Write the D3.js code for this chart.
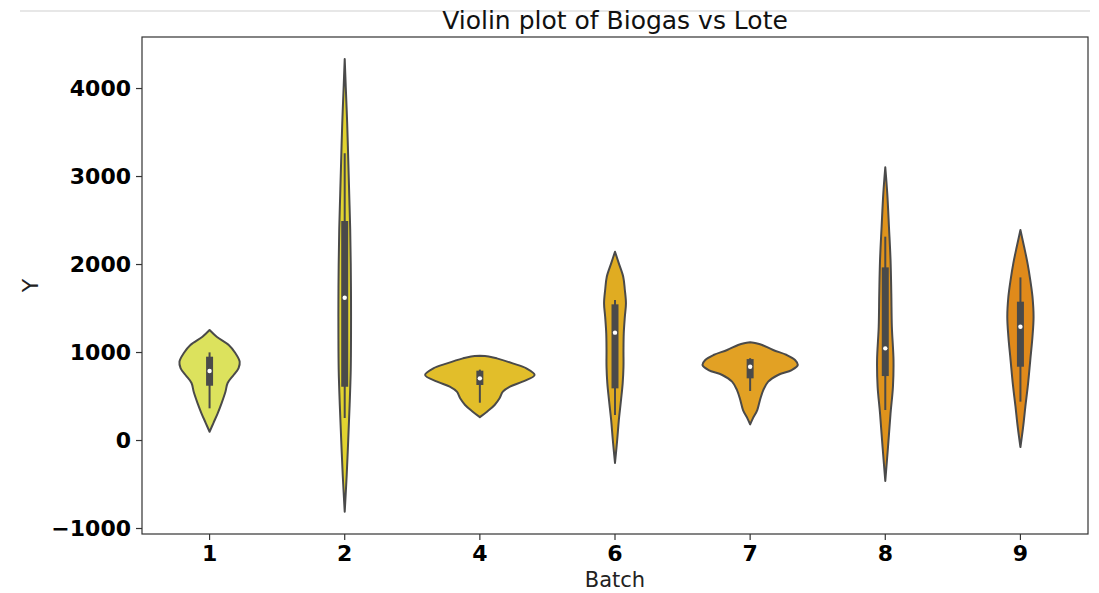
<!DOCTYPE html>
<html>
<head>
<meta charset="utf-8">
<script src="https://cdn.jsdelivr.net/npm/d3@7"></script>
<style>
  body { margin: 0; background: #fff; }
  svg { display: block; font-family: "DejaVu Sans", sans-serif; }
</style>
</head>
<body>
<svg id="chart" width="1099" height="593"></svg>
<script>
// categories and colours
const batches = ["1", "2", "4", "6", "7", "8", "9"];
const colors = ["#dce25d", "#e2d430", "#e2be2a", "#e0ac22", "#e2a124", "#df931c", "#e08a1b"];

// density profiles: [value, relative density]
const profile1 = [[1250,0],[1174,.13],[1080,.35],[989,.47],[890,.55],[818,.53],[739,.44],[648,.33],[549,.29],[420,.22],[307,.15],[193,.07],[94,0]];
const profile2 = [[4330,0],[4000,.02],[3600,.045],[3200,.064],[2800,.082],[2400,.1],[2000,.11],[1600,.115],[1200,.115],[800,.11],[400,.09],[0,.064],[-400,.036],[-815,0]];
const profile4 = [[958,0],[950,.16],[928,.31],[871,.6],[814,.85],[739,1],[663,.78],[606,.55],[549,.42],[474,.36],[398,.27],[322,.13],[260,0]];
const profile6 = [[2140,0],[2008,.07],[1856,.15],[1705,.18],[1553,.2],[1402,.18],[1212,.16],[1023,.155],[833,.155],[644,.14],[455,.11],[227,.07],[0,.04],[-260,0]];
const profile7 = [[1110,0],[1100,.11],[1080,.22],[1023,.42],[966,.67],[909,.82],[852,.87],[795,.76],[739,.51],[663,.33],[568,.24],[455,.18],[341,.13],[246,.05],[178,0]];
const profile8 = [[3100,0],[2803,.036],[2424,.067],[2045,.096],[1667,.11],[1288,.12],[909,.15],[606,.14],[303,.096],[-76,.05],[-466,0]];
const profile9 = [[2386,0],[2197,.067],[2008,.13],[1818,.18],[1629,.22],[1402,.24],[1174,.22],[909,.18],[644,.14],[379,.09],[152,.05],[-80,0]];
const profiles = [profile1, profile2, profile4, profile6, profile7, profile8, profile9];

// box stats: whisker low, q1, median, q3, whisker high
const whiskerLow  = [360, 250, 424, 284, 557, 341, 436];
const q1          = [617, 606, 625, 587, 701, 727, 833];
const medians     = [784, 1617, 701, 1220, 833, 1042, 1288];
const q3          = [947, 2489, 788, 1542, 920, 1962, 1572];
const whiskerHigh = [996, 3258, 800, 1591, 930, 2311, 1848];

const yTicks = [-1000, 0, 1000, 2000, 3000, 4000];

const svg = d3.select("#chart");
const margin = {top: 37, right: 11, bottom: 59, left: 142};
const width = 1099 - margin.left - margin.right,
      height = 593 - margin.top - margin.bottom;

// notebook separator line
svg.append("line")
  .attr("x1", 20).attr("x2", 1090).attr("y1", 11).attr("y2", 11)
  .attr("stroke", "#cfcfcf").attr("stroke-width", 1);

const g = svg.append("g").attr("transform", "translate(" + margin.left + "," + margin.top + ")");

const x = d3.scaleBand().domain(batches).range([0, width]);
const y = d3.scaleLinear().domain([-1068, 4580]).range([height, 0]);
const w = d3.scaleLinear().domain([0, 1]).range([0, x.bandwidth() * 0.405]);

const ink = "#4a4a4a";

batches.forEach(function(b, i) {
  const cx = x(b) + x.bandwidth() / 2;
  const area = d3.area()
    .curve(d3.curveCatmullRom.alpha(0.5))
    .y(function(d) { return y(d[0]); })
    .x0(function(d) { return cx - w(d[1]); })
    .x1(function(d) { return cx + w(d[1]); });

  g.append("path")
    .datum(profiles[i])
    .attr("d", area)
    .attr("fill", colors[i])
    .attr("stroke", ink)
    .attr("stroke-width", 2)
    .attr("stroke-linejoin", "round");

  g.append("line")
    .attr("x1", cx).attr("x2", cx)
    .attr("y1", y(whiskerLow[i])).attr("y2", y(whiskerHigh[i]))
    .attr("stroke", ink).attr("stroke-width", 2);

  g.append("line")
    .attr("x1", cx).attr("x2", cx)
    .attr("y1", y(q1[i])).attr("y2", y(q3[i]))
    .attr("stroke", ink).attr("stroke-width", 7);

  g.append("circle")
    .attr("cx", cx).attr("cy", y(medians[i]))
    .attr("r", 2.2)
    .attr("fill", "#fff");
});

// frame
g.append("rect")
  .attr("width", width).attr("height", height)
  .attr("fill", "none").attr("stroke", "#333").attr("stroke-width", 1.2);

const yAxis = g.append("g")
  .call(d3.axisLeft(y).tickValues(yTicks).tickFormat(d3.format("d")).tickSize(6).tickPadding(5));
const xAxis = g.append("g")
  .attr("transform", "translate(0," + height + ")")
  .call(d3.axisBottom(x).tickSize(6).tickPadding(5));

[yAxis, xAxis].forEach(function(a) {
  a.select(".domain").remove();
  a.selectAll(".tick line").attr("stroke", "#333").attr("stroke-width", 1.2);
  a.selectAll(".tick text")
    .attr("fill", "#000")
    .attr("font-family", "DejaVu Sans")
    .attr("font-weight", "bold")
    .attr("font-size", 22)
    .text(function(d) { return String(d).replace("-", "\u2212"); });
});

svg.append("text")
  .attr("x", margin.left + width / 2).attr("y", 29)
  .attr("text-anchor", "middle")
  .attr("font-size", 25)
  .attr("fill", "#111")
  .text("Violin plot of Biogas vs Lote");

svg.append("text")
  .attr("x", margin.left + width / 2).attr("y", 587)
  .attr("text-anchor", "middle")
  .attr("font-size", 21)
  .attr("fill", "#222")
  .text("Batch");

svg.append("text")
  .attr("transform", "translate(38," + (margin.top + height / 2) + ") rotate(-90)")
  .attr("text-anchor", "middle")
  .attr("font-size", 22)
  .attr("fill", "#222")
  .text("Y");
</script>
</body>
</html>
